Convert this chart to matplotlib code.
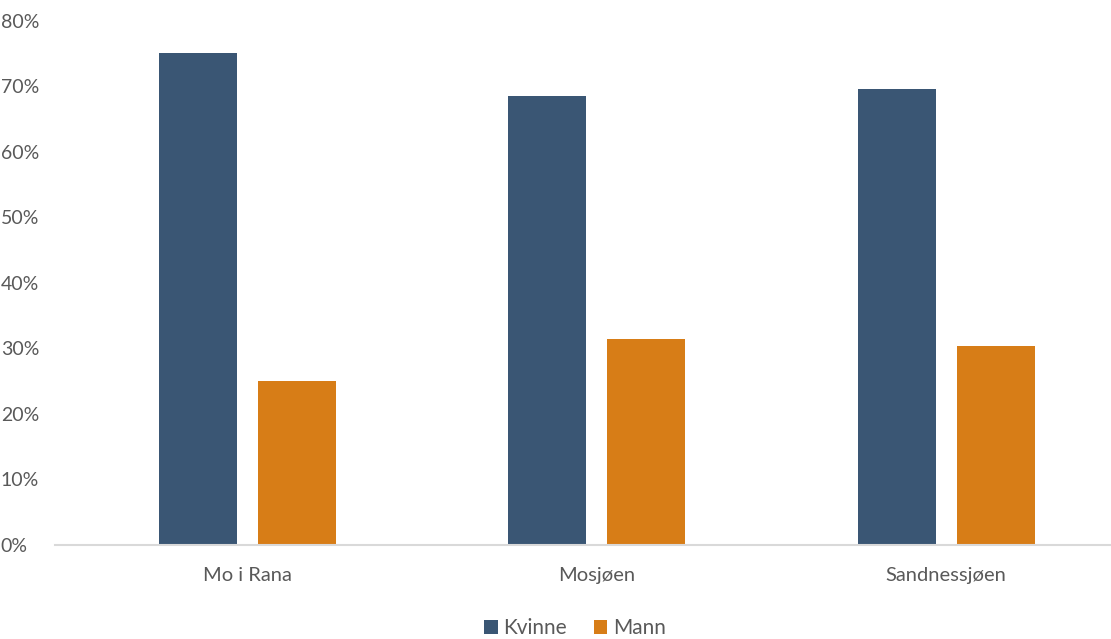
import matplotlib.pyplot as plt
import numpy as np

plt.rcParams['font.family'] = ['Lato', 'DejaVu Sans']

# data
places = ['Mo i Rana', 'Mosjøen', 'Sandnessjøen']
kvinne = [75.1, 68.5, 69.6]
mann = [25.0, 31.5, 30.4]
yticks = [0, 10, 20, 30, 40, 50, 60, 70, 80]

blue = '#3A5674'
orange = '#D77D17'
grey_text = '#595959'

fig = plt.figure(figsize=(11.11, 6.39), dpi=100)
ax = fig.add_axes([55 / 1111, 94 / 639, 1 - 55 / 1111, 524 / 639])

x = np.arange(len(places))
w = 0.223
off = 0.1417
ax.bar(x - off, kvinne, w, color=blue, label='Kvinne')
ax.bar(x + off, mann, w, color=orange, label='Mann')

ax.set_xlim(-0.551, 2.472)
ax.set_ylim(0, 80)
ax.set_yticks(yticks)
ax.set_yticklabels([f'{t}%' for t in yticks])
ax.set_xticks(x)
ax.set_xticklabels(places)

for s in ['top', 'right', 'left']:
    ax.spines[s].set_visible(False)
ax.spines['bottom'].set_color('#D9D9D9')
ax.spines['bottom'].set_linewidth(1.5)
ax.tick_params(axis='both', length=0, labelsize=14, labelcolor=grey_text)
ax.tick_params(axis='x', labelsize=14.5, pad=16)
ax.tick_params(axis='y', pad=6)
for lab in ax.get_yticklabels():
    lab.set_horizontalalignment('left')
    lab.set_x(-46 / 1056)

fig.legend(loc='center', bbox_to_anchor=(575 / 1111, 11 / 639), ncol=2,
           frameon=False, fontsize=15, handlelength=0.65, handleheight=0.65,
           handletextpad=0.25, columnspacing=1.3, labelcolor=grey_text,
           borderpad=0)

fig.savefig('out.png', dpi=100)
